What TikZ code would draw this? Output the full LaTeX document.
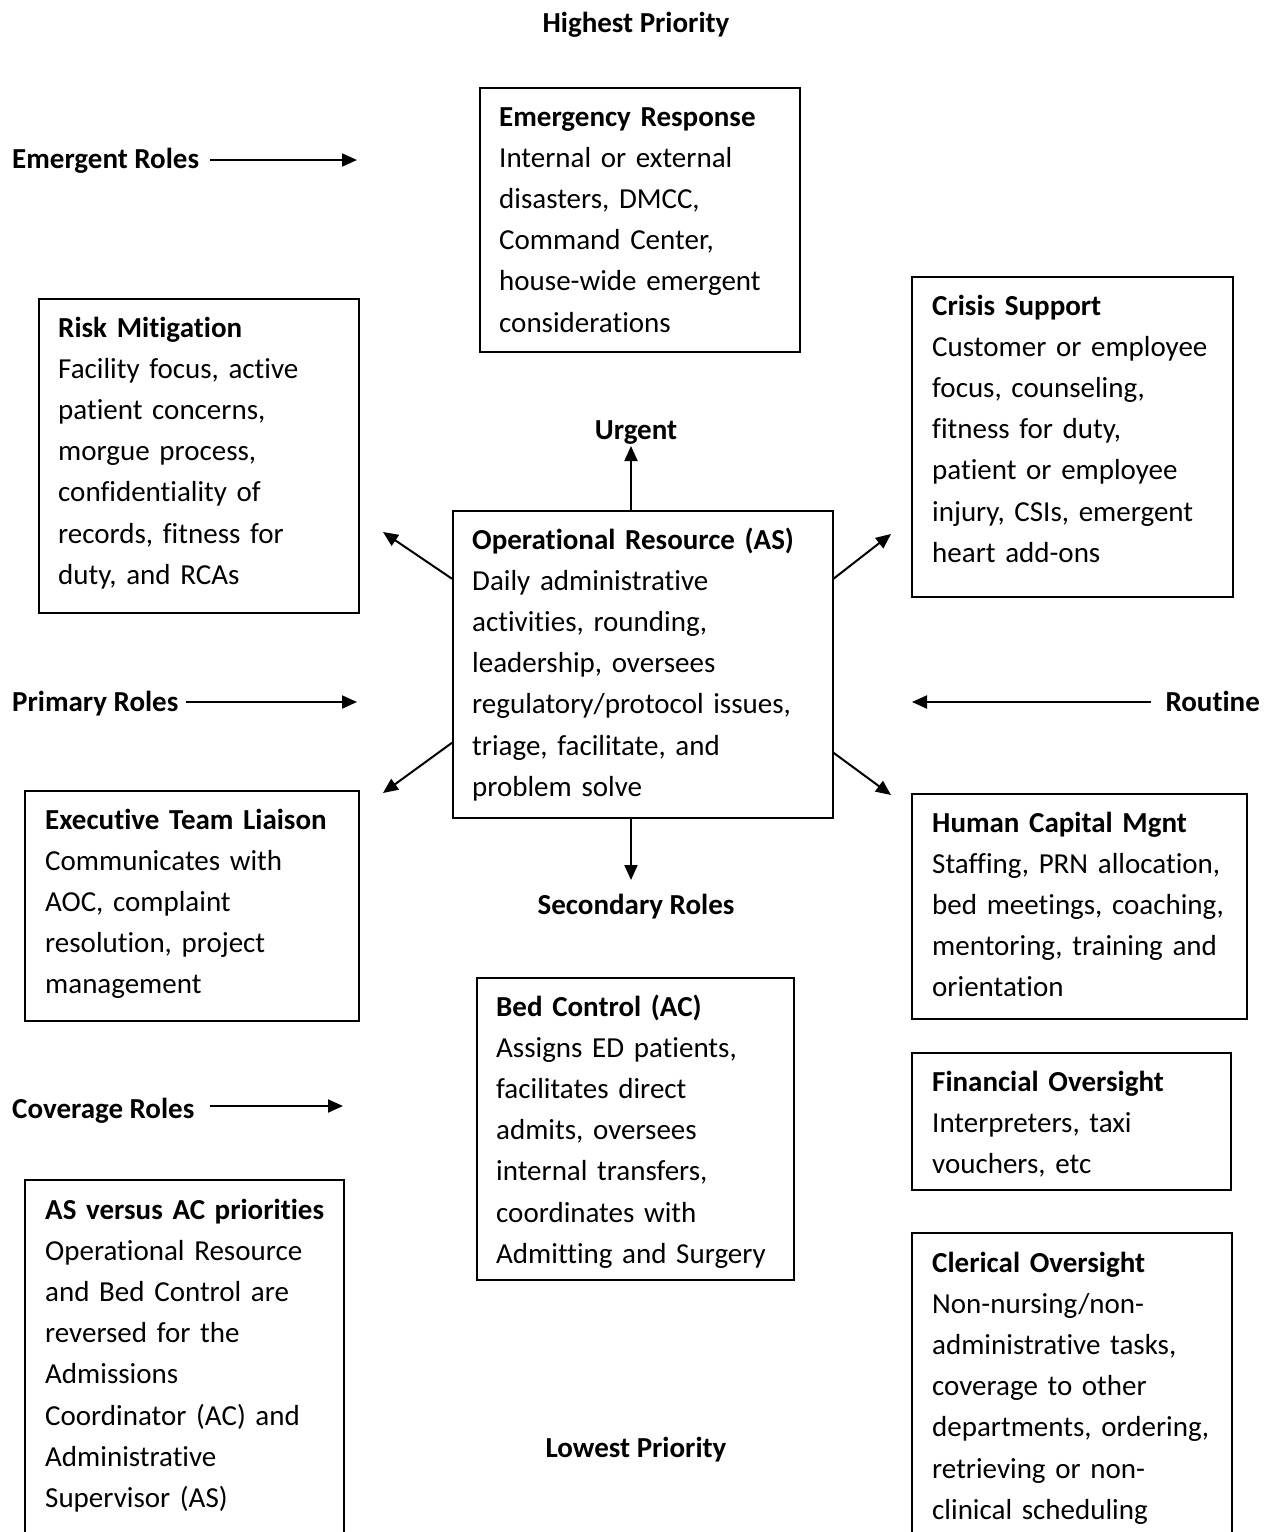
\documentclass[tikz,border=0pt]{standalone}
\usepackage{fontspec}
\setmainfont{Carlito}[Ligatures=NoCommon]
\usetikzlibrary{arrows.meta}
\begin{document}
\begin{tikzpicture}[x=1pt,y=-1pt,
  boxst/.style={draw, line width=1.5pt, inner sep=0pt, anchor=north west},
  txt/.style={anchor=base west, inner sep=0pt, align=left, text width=360pt, font=\fontsize{29}{41.2}\selectfont},
  lbl/.style={inner sep=0pt, font=\fontsize{29}{41.2}\selectfont\bfseries},
  arr/.style={line width=2pt, -{Triangle[length=15pt,width=13pt]}}]
\useasboundingbox (0,0) rectangle (1271,1532);
\clip (0,0) rectangle (1271,1532);
% boxes
\node[boxst, minimum width=320pt, minimum height=264pt] (er) at (479,87) {};
\node[boxst, minimum width=320pt, minimum height=314pt] (rm) at (38,298) {};
\node[boxst, minimum width=321pt, minimum height=320pt] (cs) at (911,276) {};
\node[boxst, minimum width=380pt, minimum height=307pt] (op) at (452,510) {};
\node[boxst, minimum width=334pt, minimum height=230pt] (et) at (24,790) {};
\node[boxst, minimum width=335pt, minimum height=225pt] (hc) at (911,793) {};
\node[boxst, minimum width=317pt, minimum height=302pt] (bc) at (476,977) {};
\node[boxst, minimum width=319pt, minimum height=137pt] (fo) at (911,1052) {};
\node[boxst, minimum width=319pt, minimum height=420pt] (as) at (24,1179) {};
\node[boxst, minimum width=320pt, minimum height=420pt] (co) at (911,1232) {};
% texts
\node[txt] (ert) at (499,126) {\textbf{Emergency Response}\\Internal or external\\disasters, DMCC,\\Command Center,\\house-wide emergent\\considerations};
\node[txt] (rmt) at (58,337) {\textbf{Risk Mitigation}\\Facility focus, active\\patient concerns,\\morgue process,\\confidentiality of\\records, fitness for\\duty, and RCAs};
\node[txt] (cst) at (932,315) {\textbf{Crisis Support}\\Customer or employee\\focus, counseling,\\fitness for duty,\\patient or employee\\injury, CSIs, emergent\\heart add-ons};
\node[txt] (opt) at (472,549) {\textbf{Operational Resource (AS)}\\Daily administrative\\activities, rounding,\\leadership, oversees\\regulatory/protocol issues,\\triage, facilitate, and\\problem solve};
\node[txt] (ett) at (45,829) {\textbf{Executive Team Liaison}\\Communicates with\\AOC, complaint\\resolution, project\\management};
\node[txt] (hct) at (932,832) {\textbf{Human Capital Mgnt}\\Staffing, PRN allocation,\\bed meetings, coaching,\\mentoring, training and\\orientation};
\node[txt] (bct) at (496,1016) {\textbf{Bed Control (AC)}\\Assigns ED patients,\\facilitates direct\\admits, oversees\\internal transfers,\\coordinates with\\Admitting and Surgery};
\node[txt] (fot) at (932,1091) {\textbf{Financial Oversight}\\Interpreters, taxi\\vouchers, etc};
\node[txt] (ast) at (45,1219) {\textbf{AS versus AC priorities}\\Operational Resource\\and Bed Control are\\reversed for the\\Admissions\\Coordinator (AC) and\\Administrative\\Supervisor (AS)};
\node[txt] (cot) at (932,1272) {\textbf{Clerical Oversight}\\Non-nursing/non-\\administrative tasks,\\coverage to other\\departments, ordering,\\retrieving or non-\\clinical scheduling};
% labels
\node[lbl, anchor=base] (hp) at (636,32) {Highest Priority};
\node[lbl, anchor=base] (ug) at (636,439) {Urgent};
\node[lbl, anchor=base] (sr) at (636,914) {Secondary Roles};
\node[lbl, anchor=base] (lp) at (636,1457) {Lowest Priority};
\node[lbl, anchor=base west] (em) at (12,168) {Emergent Roles};
\node[lbl, anchor=base west] (pr) at (12,711) {Primary Roles};
\node[lbl, anchor=base west] (cv) at (12,1118) {Coverage Roles};
\node[lbl, anchor=base east] (rt) at (1260,711) {Routine};
% arrow ends
\coordinate (emEnd) at (357,160);
\coordinate (prEnd) at (357,702);
\coordinate (cvEnd) at (343,1106);
\coordinate (rtEnd) at (912,702);
\coordinate (upEnd) at (631,446);
\coordinate (dnEnd) at (631,880);
\coordinate (ulEnd) at (383,532);
\coordinate (urEnd) at (891,534);
\coordinate (llEnd) at (383,793);
\coordinate (lrEnd) at (891,795);
% arrows
\draw[arr] ([xshift=11pt]em.east |- emEnd) -- (emEnd);
\draw[arr] ([xshift=7pt]pr.east |- prEnd) -- (prEnd);
\draw[arr] ([xshift=15pt]cv.east |- cvEnd) -- (cvEnd);
\draw[arr] ([xshift=-14pt]rt.west |- rtEnd) -- (rtEnd);
\draw[arr] (upEnd |- op.north) -- (upEnd);
\draw[arr] (dnEnd |- op.south) -- (dnEnd);
\draw[arr] ([yshift=85.5pt]op.west) -- (ulEnd);
\draw[arr] ([yshift=85.5pt]op.east) -- (urEnd);
\draw[arr] ([yshift=-78.5pt]op.west) -- (llEnd);
\draw[arr] ([yshift=-88.5pt]op.east) -- (lrEnd);
\end{tikzpicture}
\end{document}
